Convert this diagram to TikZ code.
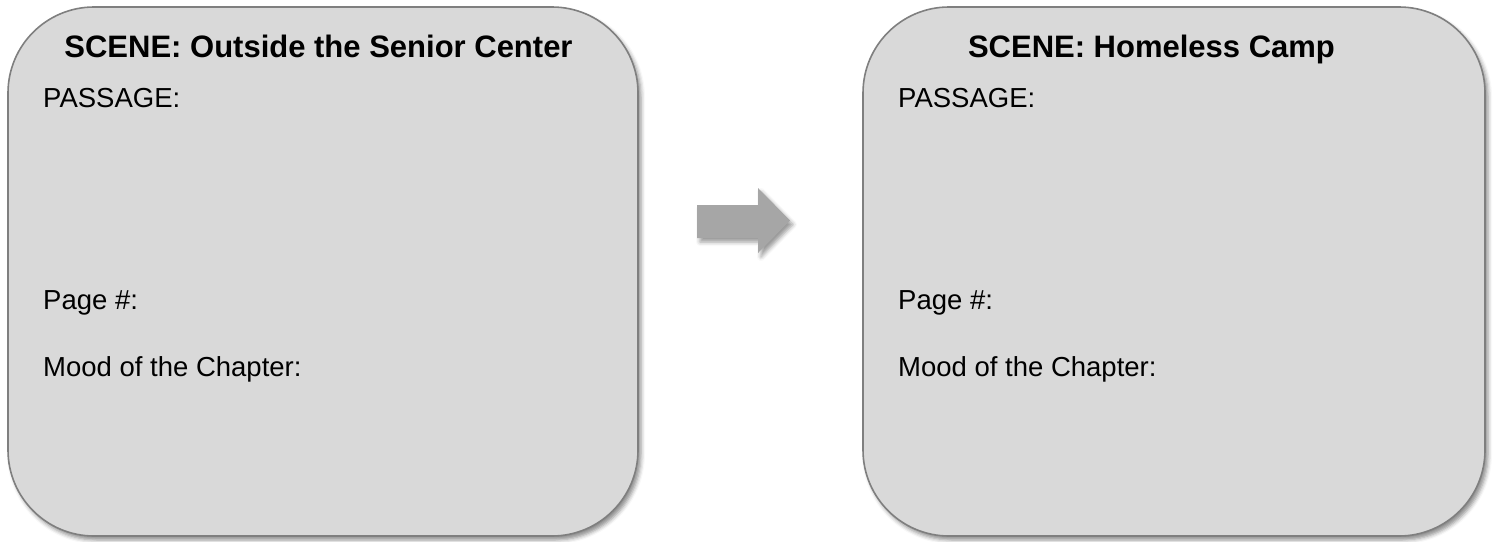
\documentclass[tikz,border=0pt]{standalone}
\usepackage{fontspec}
\setmainfont{Liberation Sans}
\usetikzlibrary{shadows.blur}
\definecolor{boxfill}{HTML}{D9D9D9}
\definecolor{boxline}{HTML}{7F7F7F}
\definecolor{arrfill}{HTML}{A6A6A6}
\begin{document}
\begin{tikzpicture}[x=1pt,y=-1pt,
  scenebox/.style={draw=boxline, line width=1.6pt, fill=boxfill, rounded corners=86pt,
    blur shadow={shadow xshift=3pt, shadow yshift=-4pt, shadow blur radius=4pt, shadow opacity=45}},
  titletext/.style={anchor=base, inner sep=0pt, font=\fontsize{31}{37}\selectfont\bfseries},
  bodytext/.style={anchor=base west, inner sep=0pt, font=\fontsize{27.5}{33}\selectfont}]
\useasboundingbox (0,0) rectangle (1495,541);
% boxes
\draw[scenebox] (8,7) rectangle (638,536);
\draw[scenebox] (863,7) rectangle (1485,536);
\coordinate (box1) at (323,270);
\coordinate (box2) at (1174,270);
% arrow
\fill[arrfill, blur shadow={shadow xshift=3pt, shadow yshift=-4pt, shadow blur radius=4pt, shadow opacity=40}]
  (697,205) -- (758,205) -- (758,188) -- (790,220.5) -- (758,253) -- (758,238) -- (697,238) -- cycle;
% texts box 1
\node[titletext] (t1) at (318.5,57) {SCENE: Outside the Senior Center};
\node[bodytext] (p1) at (43,107) {PASSAGE:};
\node[bodytext] (g1) at (43,309) {Page \#:};
\node[bodytext] (m1) at (43,376) {Mood of the Chapter:};
% texts box 2
\node[titletext] (t2) at (1151.5,57) {SCENE: Homeless Camp};
\node[bodytext] (p2) at (898,107) {PASSAGE:};
\node[bodytext] (g2) at (898,309) {Page \#:};
\node[bodytext] (m2) at (898,376) {Mood of the Chapter:};
\end{tikzpicture}
\end{document}
